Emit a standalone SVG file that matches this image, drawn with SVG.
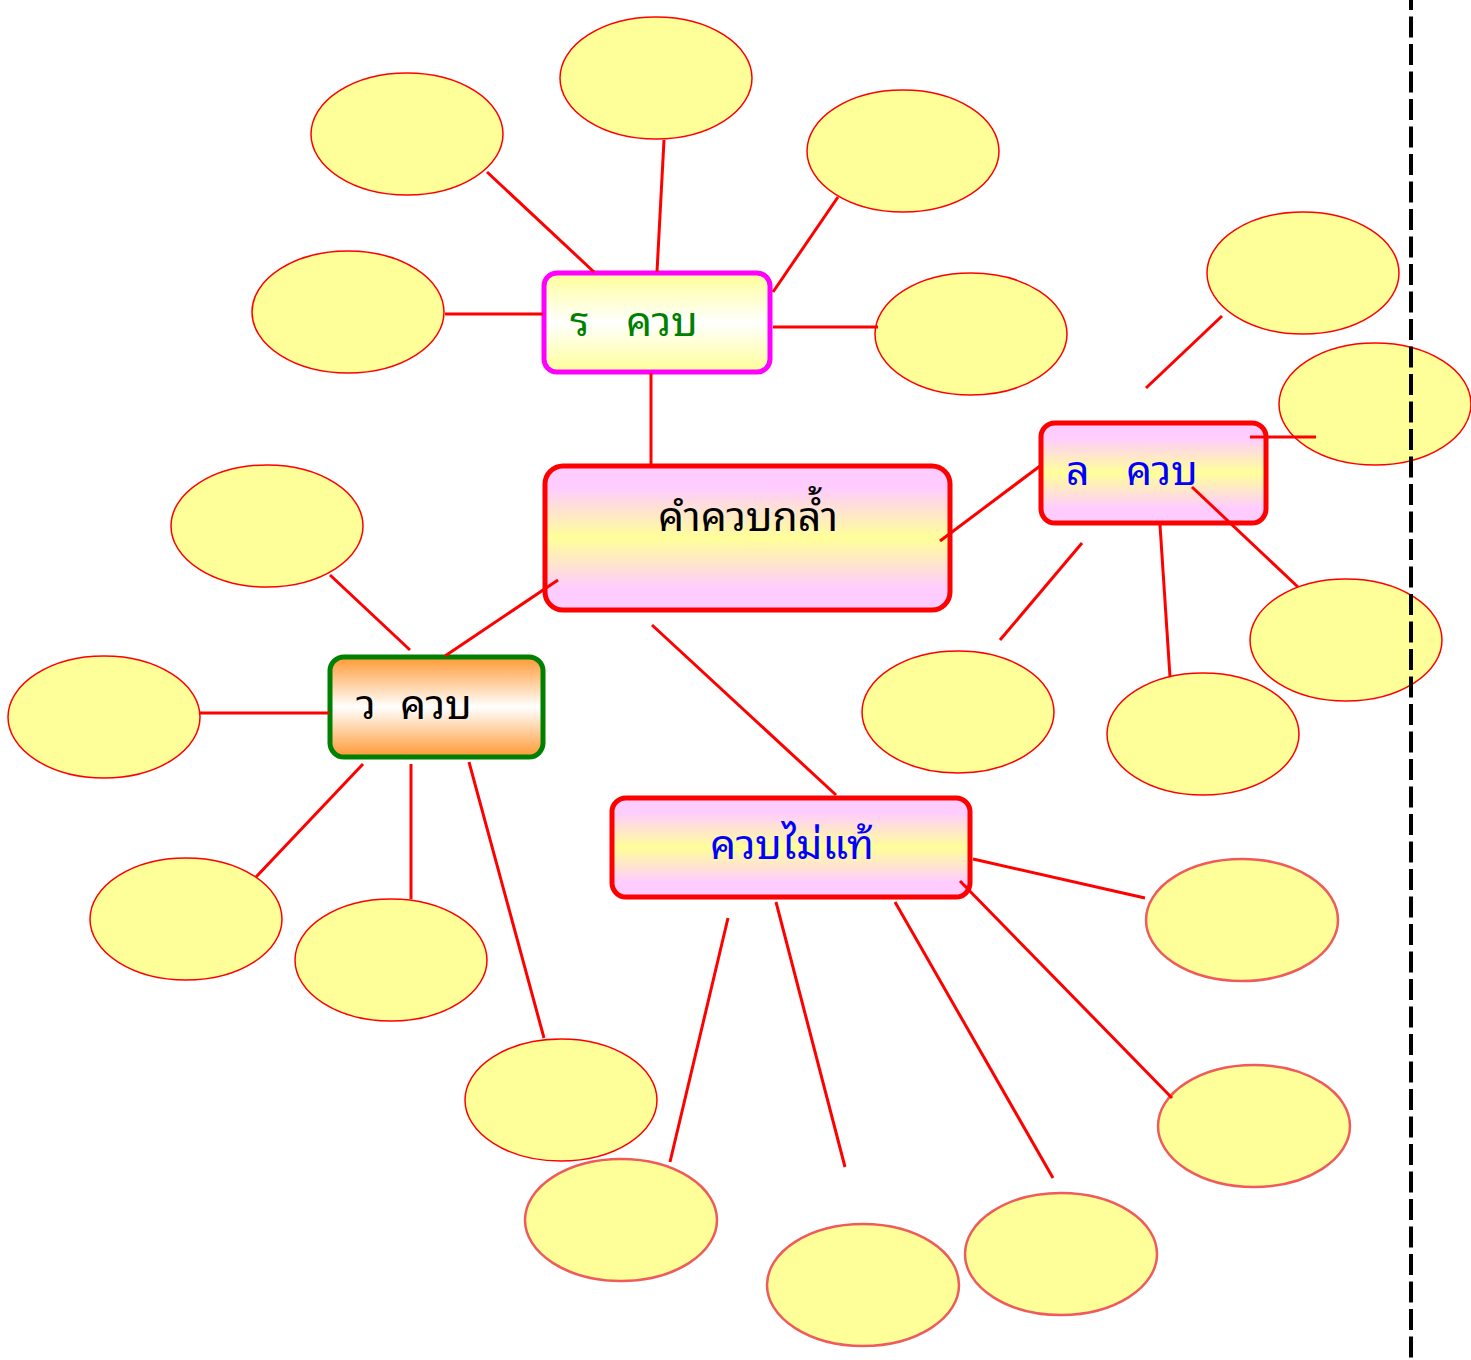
<svg xmlns="http://www.w3.org/2000/svg" width="1471" height="1360" viewBox="0 0 1471 1360">
<style>
.e{fill:#ffff99;stroke:#ff0000;stroke-width:1.5}
.e2{fill:#ffff99;stroke:#f05a5a;stroke-width:2.5}
.c line{stroke:#ff0000;stroke-width:3}
.t{font-family:"Noto Sans Thai Looped","Loma","Garuda","Tahoma","Liberation Sans",sans-serif;font-size:41px}
</style>
<defs>
<linearGradient id="gy" x1="0" y1="0" x2="0" y2="1"><stop offset="0" stop-color="#ffff99"/><stop offset="0.5" stop-color="#ffffff"/><stop offset="1" stop-color="#ffff99"/></linearGradient>
<linearGradient id="gp" x1="0" y1="0" x2="0" y2="1"><stop offset="0" stop-color="#ffccff"/><stop offset="0.15" stop-color="#ffccff"/><stop offset="0.5" stop-color="#ffff99"/><stop offset="0.85" stop-color="#ffccff"/><stop offset="1" stop-color="#ffccff"/></linearGradient>
<linearGradient id="go" x1="0" y1="0" x2="0" y2="1"><stop offset="0" stop-color="#ff9933"/><stop offset="0.5" stop-color="#ffffff"/><stop offset="1" stop-color="#ff9933"/></linearGradient>
</defs>
<rect width="1471" height="1360" fill="#ffffff"/>
<g id="ellipses">
<ellipse id="n1" class="e" cx="407" cy="134" rx="96" ry="61"/>
<ellipse id="n2" class="e" cx="656" cy="78" rx="96" ry="61"/>
<ellipse id="n3" class="e" cx="903" cy="151" rx="96" ry="61"/>
<ellipse id="n4" class="e" cx="348" cy="312" rx="96" ry="61"/>
<ellipse id="n5" class="e" cx="971" cy="334" rx="96" ry="61"/>
<ellipse id="n6" class="e" cx="1303" cy="273" rx="96" ry="61"/>
<ellipse id="n7" class="e" cx="1375" cy="404" rx="96" ry="61"/>
<ellipse id="n8" class="e" cx="267" cy="526" rx="96" ry="61"/>
<ellipse id="n9" class="e" cx="104" cy="717" rx="96" ry="61"/>
<ellipse id="n10" class="e" cx="958" cy="712" rx="96" ry="61"/>
<ellipse id="n11" class="e" cx="1203" cy="734" rx="96" ry="61"/>
<ellipse id="n12" class="e" cx="1346" cy="640" rx="96" ry="61"/>
<ellipse id="n13" class="e" cx="186" cy="919" rx="96" ry="61"/>
<ellipse id="n14" class="e" cx="391" cy="960" rx="96" ry="61"/>
<ellipse id="n15" class="e" cx="561" cy="1100" rx="96" ry="61"/>
<ellipse id="n16" class="e2" cx="1242" cy="920" rx="96" ry="61"/>
<ellipse id="n17" class="e2" cx="1254" cy="1126" rx="96" ry="61"/>
<ellipse id="n18" class="e2" cx="621" cy="1220" rx="96" ry="61"/>
<ellipse id="n19" class="e2" cx="863" cy="1285" rx="96" ry="61"/>
<ellipse id="n20" class="e2" cx="1061" cy="1254" rx="96" ry="61"/>
</g>
<g id="box-r">
<rect x="544" y="273" width="226" height="99" rx="13" fill="url(#gy)" stroke="#ff00ff" stroke-width="5"/>
<text class="t" y="336" fill="#008000"><tspan x="570">ร</tspan><tspan x="626">ควบ</tspan></text>
</g>
<g id="box-main">
<rect x="545" y="466" width="405" height="144" rx="18" fill="url(#gp)" stroke="#ff0000" stroke-width="5"/>
<text class="t" x="748" y="531" fill="#000000" text-anchor="middle">คำควบกล้ำ</text>
</g>
<g id="box-l">
<rect x="1041" y="423" width="225" height="100" rx="14" fill="url(#gp)" stroke="#ff0000" stroke-width="5"/>
<text class="t" y="485" fill="#0000ff"><tspan x="1066">ล</tspan><tspan x="1126">ควบ</tspan></text>
</g>
<g id="box-w">
<rect x="330" y="657" width="213" height="100" rx="14" fill="url(#go)" stroke="#008000" stroke-width="5"/>
<text class="t" y="719" fill="#000000"><tspan x="356">ว</tspan><tspan x="400">ควบ</tspan></text>
</g>
<g id="box-mai">
<rect x="612" y="798" width="358" height="99" rx="14" fill="url(#gp)" stroke="#ff0000" stroke-width="5"/>
<text class="t" x="792" y="859" fill="#0000ff" text-anchor="middle">ควบไม่แท้</text>
</g>
<g id="connectors" class="c">
<line x1="487" y1="172" x2="594" y2="272"/>
<line x1="664" y1="140" x2="657" y2="272"/>
<line x1="838" y1="197" x2="773" y2="292"/>
<line x1="445" y1="314" x2="543" y2="314"/>
<line x1="773" y1="327" x2="878" y2="327"/>
<line x1="651" y1="373" x2="651" y2="465"/>
<line x1="1222" y1="316" x2="1146" y2="388"/>
<line x1="1250" y1="437" x2="1316" y2="437"/>
<line x1="940" y1="541" x2="1040" y2="466"/>
<line x1="1192" y1="487" x2="1298" y2="587"/>
<line x1="1082" y1="543" x2="1000" y2="640"/>
<line x1="1160" y1="525" x2="1170" y2="677"/>
<line x1="330" y1="575" x2="410" y2="650"/>
<line x1="558" y1="580" x2="445" y2="656"/>
<line x1="200" y1="713" x2="329" y2="713"/>
<line x1="363" y1="764" x2="256" y2="877"/>
<line x1="411" y1="764" x2="411" y2="899"/>
<line x1="469" y1="762" x2="544" y2="1038"/>
<line x1="652" y1="625" x2="836" y2="795"/>
<line x1="973" y1="859" x2="1145" y2="898"/>
<line x1="960" y1="881" x2="1172" y2="1098"/>
<line x1="728" y1="918" x2="670" y2="1162"/>
<line x1="776" y1="902" x2="845" y2="1167"/>
<line x1="895" y1="902" x2="1053" y2="1178"/>
</g>
<line id="divider" x1="1411" y1="0" x2="1411" y2="1360" stroke="#000000" stroke-width="4" stroke-dasharray="21 6.5" stroke-dashoffset="11"/>
</svg>
